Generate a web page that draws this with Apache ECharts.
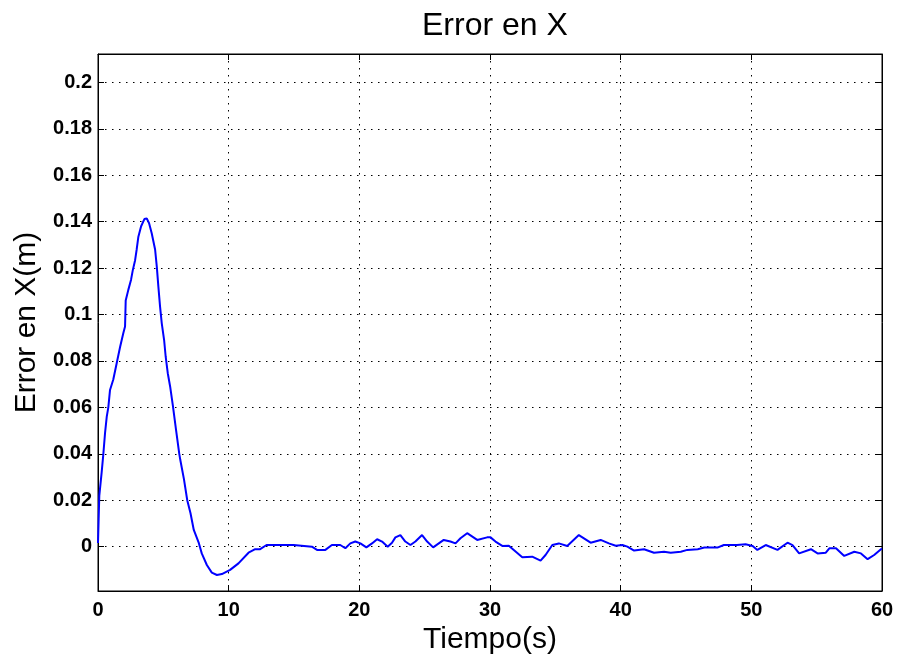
<!DOCTYPE html>
<html>
<head>
<meta charset="utf-8">
<script src="https://cdn.jsdelivr.net/npm/echarts@6/dist/echarts.min.js"></script>
<style>
html,body{margin:0;padding:0;background:#fff;}
#chart{width:898px;height:660px;}
</style>
</head>
<body>
<div id="chart"></div>
<script>
const timeS = [0, 0.05, 0.1, 0.28, 0.41, 0.54, 0.67, 0.79, 0.92, 1.17, 1.43, 1.69, 1.94, 2.07, 2.12, 2.32, 2.53, 2.66, 2.84, 2.96, 3.09, 3.30, 3.55, 3.73, 3.91, 4.11, 4.37, 4.50, 4.62, 4.75, 4.88, 5.06, 5.18, 5.34, 5.52, 5.74, 5.98, 6.22, 6.30, 6.58, 6.83, 7.08, 7.33, 7.72, 7.94, 8.33, 8.71, 9.10, 9.48, 10.11, 10.75, 11.52, 12.03, 12.41, 12.9, 14.97, 16.37, 16.76, 17.4, 17.9, 18.54, 18.93, 19.31, 19.69, 20.08, 20.54, 20.97, 21.36, 21.74, 22.17, 22.5, 22.76, 23.14, 23.52, 23.91, 24.29, 24.8, 25.19, 25.65, 26.08, 26.46, 26.97, 27.36, 27.74, 28.25, 29.02, 29.78, 30.04, 30.42, 30.94, 31.44, 32.47, 33.23, 33.87, 34.25, 34.77, 35.27, 35.91, 36.8, 37.7, 38.47, 39.1, 39.62, 40.13, 40.51, 41.03, 41.79, 42.55, 43.32, 43.83, 44.6, 45.1, 45.9, 46.4, 47.4, 47.9, 48.9, 49.56, 50.1, 50.46, 51.1, 52.0, 52.77, 53.15, 53.66, 54.56, 55.07, 55.7, 55.97, 56.48, 57.11, 57.88, 58.39, 58.9, 59.4, 59.92, 60];
const errorX = [0.0016, 0.012, 0.022, 0.032, 0.040, 0.049, 0.056, 0.060, 0.0675, 0.072, 0.079, 0.086, 0.092, 0.0948, 0.106, 0.1106, 0.115, 0.119, 0.1234, 0.128, 0.1335, 0.138, 0.1411, 0.1414, 0.1393, 0.135, 0.128, 0.1206, 0.112, 0.1034, 0.0962, 0.089, 0.0818, 0.0747, 0.069, 0.0603, 0.050, 0.040, 0.0373, 0.029, 0.020, 0.0144, 0.0072, 0.0015, -0.0029, -0.0079, -0.0112, -0.0122, -0.0118, -0.010, -0.0072, -0.0026, -0.0011, -0.0011, 0.0007, 0.0007, 0, -0.0014, -0.0014, 0.0007, 0.0007, -0.0007, 0.0014, 0.0022, 0.0014, -0.0003, 0.0014, 0.0032, 0.0022, 0, 0.0017, 0.004, 0.005, 0.0022, 0.0007, 0.0022, 0.005, 0.0022, -0.0003, 0.0014, 0.0029, 0.0022, 0.0014, 0.0036, 0.0058, 0.0029, 0.004, 0.004, 0.0022, 0.0003, 0.0004, -0.0046, -0.0043, -0.006, -0.0036, 0.0007, 0.0014, 0.0003, 0.005, 0.0017, 0.0029, 0.0014, 0.0004, 0.0007, 0, -0.0017, -0.0011, -0.0026, -0.0022, -0.0026, -0.0022, -0.0014, -0.0011, -0.0004, -0.0004, 0.0007, 0.0007, 0.001, 0.0003, -0.0014, 0.0007, -0.0014, 0.0017, 0.0007, -0.0029, -0.0011, -0.0029, -0.0026, -0.0007, -0.0007, -0.004, -0.0022, -0.0029, -0.0054, -0.0036, -0.0011, -0.0008];
const yTicks = [0, 0.02, 0.04, 0.06, 0.08, 0.1, 0.12, 0.14, 0.16, 0.18, 0.2];
const xTicks = [0, 10, 20, 30, 40, 50, 60];

const FONT = '"Liberation Sans", Arial, sans-serif';
const chart = echarts.init(document.getElementById('chart'), null, {renderer: 'canvas'});
const gridLine = {show: true, lineStyle: {color: '#000', width: 1, type: [1.5, 5.5]}};
const tickIn = {show: true, inside: true, length: 6, lineStyle: {color: '#000', width: 1}};
const data = timeS.map((t, i) => [t, errorX[i]]);

chart.setOption({
  animation: false,
  backgroundColor: '#fff',
  title: {
    text: 'Error en X', left: 417, top: 5,
    textStyle: {fontFamily: FONT, fontSize: 32, fontWeight: 'normal', color: '#000'}
  },
  grid: {left: 98, right: 16, top: 54, bottom: 69, show: true, borderColor: '#000', borderWidth: 1, containLabel: false},
  xAxis: [{
    type: 'value', min: 0, max: 60, interval: 10, position: 'bottom',
    name: 'Tiempo(s)', nameLocation: 'middle', nameGap: 28,
    nameTextStyle: {fontFamily: FONT, fontSize: 30, color: '#000'},
    axisLine: {show: true, onZero: false, lineStyle: {color: '#000', width: 1}},
    axisTick: tickIn,
    axisLabel: {fontFamily: FONT, fontSize: 20, fontWeight: 'bold', color: '#000', margin: 9},
    splitLine: gridLine
  }, {
    type: 'value', min: 0, max: 60, interval: 10, position: 'top',
    axisLine: {show: true, onZero: false, lineStyle: {color: '#000'}},
    axisTick: tickIn, axisLabel: {show: false}, splitLine: {show: false}
  }],
  yAxis: [{
    type: 'value', min: -0.0191, max: 0.2122, position: 'left',
    name: 'Error en X(m)', nameLocation: 'middle', nameGap: 52, nameRotate: 90,
    nameTextStyle: {fontFamily: FONT, fontSize: 30, color: '#000'},
    axisLine: {show: true, onZero: false, lineStyle: {color: '#000', width: 1}},
    axisTick: Object.assign({}, tickIn, {customValues: yTicks}),
    axisLabel: {fontFamily: FONT, fontSize: 20, fontWeight: 'bold', color: '#000', margin: 6,
      customValues: yTicks, formatter: v => String(+v.toFixed(2))},
    splitLine: gridLine
  }, {
    type: 'value', min: -0.0191, max: 0.2122, position: 'right',
    axisLine: {show: true, onZero: false, lineStyle: {color: '#000'}},
    axisTick: Object.assign({}, tickIn, {customValues: yTicks}),
    axisLabel: {show: false, customValues: yTicks}, splitLine: {show: false}
  }],
  series: [{
    type: 'line', xAxisIndex: 0, yAxisIndex: 0, data: data,
    showSymbol: false, symbol: 'none', smooth: false,
    lineStyle: {color: '#0000ff', width: 2}
  }]
});
</script>
</body>
</html>
